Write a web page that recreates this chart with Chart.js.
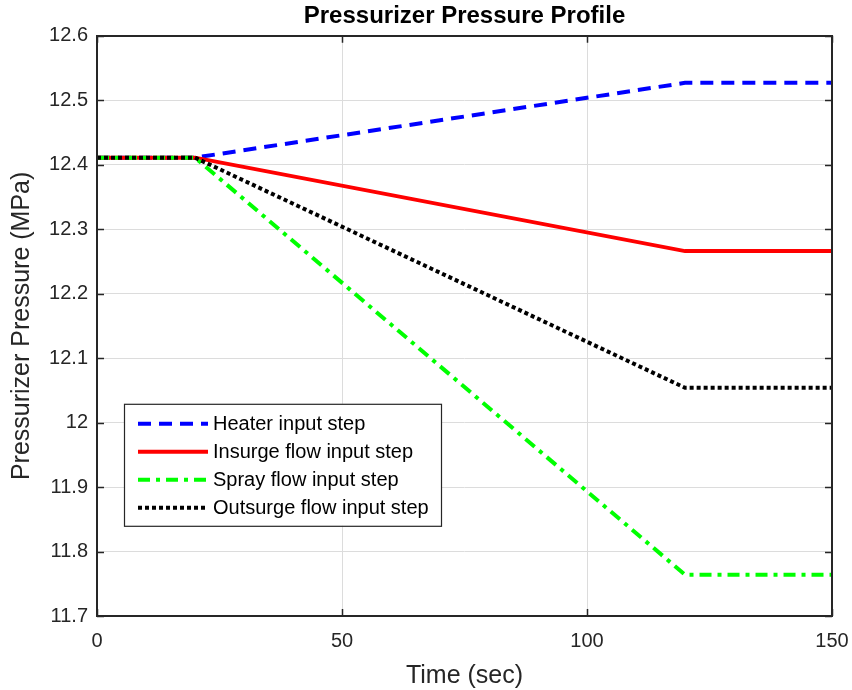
<!DOCTYPE html>
<html>
<head>
<meta charset="utf-8">
<script src="https://cdn.jsdelivr.net/npm/chart.js@4/dist/chart.umd.min.js"></script>
<style>
  html, body { margin: 0; padding: 0; background: #fff; }
  #chart { display: block; }
</style>
</head>
<body>
<canvas id="chart" width="852" height="690"></canvas>
<script>
// values
const timeSec = [0, 20, 120, 150]
const heaterMPa = [12.411, 12.411, 12.527, 12.527]
const insurgeMPa = [12.411, 12.411, 12.266, 12.266]
const sprayMPa = [12.411, 12.411, 11.764, 11.764]
const outsurgeMPa = [12.411, 12.411, 12.054, 12.054]

const seriesNames = ['Heater input step', 'Insurge flow input step', 'Spray flow input step', 'Outsurge flow input step']
const xTickLabels = ['0', '50', '100', '150']
const yTickLabels = ['11.7', '11.8', '11.9', '12', '12.1', '12.2', '12.3', '12.4', '12.5', '12.6']

const FONT = "'Liberation Sans', Arial, Helvetica, sans-serif"
const AXIS_COLOR = '#262626'

function points(ys) {
  return timeSec.map((t, i) => ({ x: t, y: ys[i] }))
}

// MATLAB style box, inward ticks and legend inside the axes
const matlabAxes = {
  id: 'matlabAxes',
  afterDatasetsDraw(chart) {
    const ctx = chart.ctx
    const a = chart.chartArea
    const xs = chart.scales.x
    const ys = chart.scales.y
    ctx.save()
    ctx.strokeStyle = AXIS_COLOR
    ctx.lineWidth = 1.5
    const tl = 7
    ctx.beginPath()
    xs.ticks.forEach(function(t) {
      const px = Math.round(xs.getPixelForValue(t.value)) + 0.5
      ctx.moveTo(px, a.bottom); ctx.lineTo(px, a.bottom - tl)
      ctx.moveTo(px, a.top); ctx.lineTo(px, a.top + tl)
    })
    ys.ticks.forEach(function(t) {
      const py = Math.round(ys.getPixelForValue(t.value)) + 0.5
      ctx.moveTo(a.left, py); ctx.lineTo(a.left + tl, py)
      ctx.moveTo(a.right, py); ctx.lineTo(a.right - tl, py)
    })
    ctx.stroke()
    ctx.lineWidth = 2
    ctx.strokeRect(Math.round(a.left), Math.round(a.top), Math.round(a.right - a.left), Math.round(a.bottom - a.top))

    // legend
    const lx = a.left + 27, ly = a.top + 368, lw = 317, lh = 122
    ctx.fillStyle = '#fff'
    ctx.fillRect(lx, ly, lw, lh)
    ctx.lineWidth = 1.2
    ctx.strokeStyle = AXIS_COLOR
    ctx.strokeRect(lx + 0.5, ly + 0.5, lw, lh)
    ctx.font = '20px ' + FONT
    ctx.textBaseline = 'middle'
    chart.data.datasets.forEach(function(ds, i) {
      const ry = ly + 20 + i * 28
      ctx.save()
      ctx.strokeStyle = ds.borderColor
      ctx.lineWidth = ds.borderWidth
      ctx.setLineDash(ds.borderDash || [])
      ctx.beginPath()
      ctx.moveTo(lx + 14, ry)
      ctx.lineTo(lx + 84, ry)
      ctx.stroke()
      ctx.restore()
      ctx.fillStyle = '#000'
      ctx.fillText(ds.label, lx + 89, ry + 1)
    })
    ctx.restore()
  }
}

new Chart(document.getElementById('chart').getContext('2d'), {
  type: 'line',
  data: {
    datasets: [
      { label: seriesNames[0], data: points(heaterMPa), borderColor: '#0000ff', borderWidth: 4, borderDash: [13, 8], order: 3 },
      { label: seriesNames[1], data: points(insurgeMPa), borderColor: '#ff0000', borderWidth: 4, order: 2 },
      { label: seriesNames[2], data: points(sprayMPa), borderColor: '#00ff00', borderWidth: 4, borderDash: [12, 6, 4, 6], order: 1 },
      { label: seriesNames[3], data: points(outsurgeMPa), borderColor: '#000000', borderWidth: 4, borderDash: [4, 3], order: 0 }
    ]
  },
  options: {
    responsive: false,
    animation: false,
    layout: { padding: { top: 0, left: 0, right: 20, bottom: 0 } },
    elements: {
      point: { radius: 0 },
      line: { tension: 0, fill: false, borderCapStyle: 'butt' }
    },
    plugins: {
      legend: { display: false },
      tooltip: { enabled: false },
      title: {
        display: true,
        fullSize: false,
        text: 'Pressurizer Pressure Profile',
        color: '#000',
        font: { family: FONT, size: 24, weight: 'bold', lineHeight: 1.2 },
        padding: { top: 2, bottom: 5 }
      }
    },
    scales: {
      x: {
        type: 'linear',
        min: 0,
        max: 150,
        afterFit(scale) {
          scale.height = 74
          scale.paddingLeft = 0
          scale.paddingRight = 0
        },
        ticks: {
          stepSize: 50,
          padding: 13,
          color: AXIS_COLOR,
          font: { family: FONT, size: 20 },
          callback: (v) => xTickLabels[Math.round(v / 50)]
        },
        grid: { color: '#dcdcdc', lineWidth: 1, drawTicks: false },
        border: { display: false },
        title: {
          display: true,
          text: 'Time (sec)',
          color: AXIS_COLOR,
          font: { family: FONT, size: 25, lineHeight: 1.1 },
          padding: { top: 0, bottom: 0 }
        }
      },
      y: {
        type: 'linear',
        min: 11.7,
        max: 12.6,
        afterFit(scale) {
          scale.width = 97
          scale.paddingTop = 0
          scale.paddingBottom = 0
        },
        ticks: {
          stepSize: 0.1,
          padding: 9,
          color: AXIS_COLOR,
          font: { family: FONT, size: 20 },
          callback: (v) => yTickLabels[Math.round((v - 11.7) * 10)]
        },
        grid: { color: '#dcdcdc', lineWidth: 1, drawTicks: false },
        border: { display: false },
        title: {
          display: true,
          text: 'Pressurizer Pressure (MPa)',
          color: AXIS_COLOR,
          font: { family: FONT, size: 25, lineHeight: 1.1 },
          padding: { top: 8, bottom: 0 }
        }
      }
    }
  },
  plugins: [matlabAxes]
})
</script>
</body>
</html>
